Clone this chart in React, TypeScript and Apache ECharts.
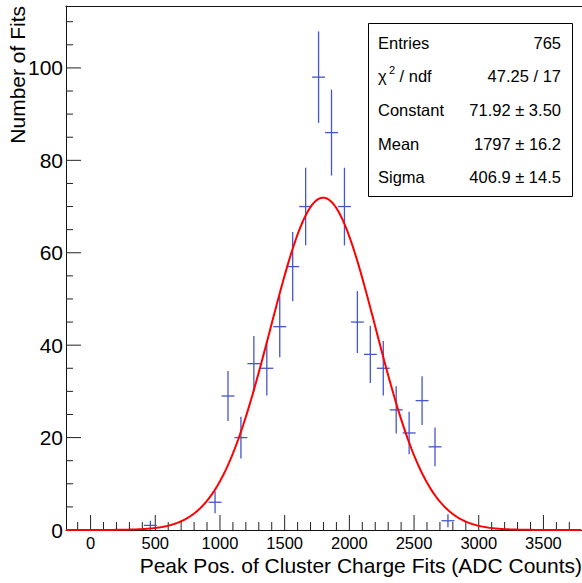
import React, { useEffect, useRef } from "react";
import * as echarts from "echarts";

// Histogram (non-empty bins only), bin width 100 ADC counts
const binCenters = [462, 962, 1062, 1162, 1262, 1362, 1462, 1562, 1662, 1762, 1862, 1962, 2062, 2162, 2262, 2362, 2462, 2562, 2662, 2762];
const counts = [1, 6, 29, 20, 36, 35, 44, 57, 70, 98, 86, 70, 45, 38, 35, 26, 21, 28, 18, 2];
const countErrors = [1, 2.4, 5.4, 4.5, 6, 5.9, 6.6, 7.5, 8.4, 9.9, 9.3, 8.4, 6.7, 6.2, 5.9, 5.1, 4.6, 5.3, 4.2, 1.4];
const binWidth = 100;

// Gaussian fit parameters (from stats box)
const fitConstant = 71.92;
const fitMean = 1797;
const fitSigma = 406.9;

// Axes
const xMin = -190;
const xMax = 3798;
const yMin = 0;
const yMax = 113.4;
const xMajorTicks = [0, 500, 1000, 1500, 2000, 2500, 3000, 3500];
const xMajorLabels = ["0", "500", "1000", "1500", "2000", "2500", "3000", "3500"];
const yMajorTicks = [0, 20, 40, 60, 80, 100];
const yMajorLabels = ["0", "20", "40", "60", "80", "100"];
const xMinorStep = 100;
const yMinorStep = 5;

// Stats box
const statsLabels = ["Entries", "χ", "Constant", "Mean", "Sigma"];
const statsValues = ["765", "47.25 / 17", "71.92 ± 3.50", "1797 ± 16.2", "406.9 ± 14.5"];

const xTitle = "Peak Pos. of Cluster Charge Fits (ADC Counts)";
const yTitle = "Number of Fits";

const FONT = "'Liberation Sans', Arial, Helvetica, sans-serif";
const BLUE = "#4456cc";
const FRAME = "#111";

export default function App() {
  const ref = useRef<HTMLDivElement>(null);

  useEffect(() => {
    if (!ref.current) return;
    const chart = echarts.init(ref.current, null, { renderer: "svg" });

    const xTicks: { v: number; major: boolean; label: string }[] = [];
    for (let v = -100; v <= 3700; v += xMinorStep) {
      const mi = xMajorTicks.indexOf(v);
      xTicks.push({ v, major: mi >= 0, label: mi >= 0 ? xMajorLabels[mi] : "" });
    }
    const yTicks: { v: number; major: boolean; label: string }[] = [];
    for (let v = 0; v <= 110; v += yMinorStep) {
      const mi = yMajorTicks.indexOf(v);
      yTicks.push({ v, major: mi >= 0, label: mi >= 0 ? yMajorLabels[mi] : "" });
    }

    const fitData: number[][] = [];
    for (let x = xMin; x <= xMax; x += 10) {
      const z = (x - fitMean) / fitSigma;
      fitData.push([x, fitConstant * Math.exp(-0.5 * z * z)]);
    }

    const rowYs = [43, 75.5, 109.5, 144, 177];
    const statsGraphics: any[] = [
      {
        type: "rect",
        z: 100,
        shape: { x: 368.5, y: 23.5, width: 204, height: 173 },
        style: { fill: "#fff", stroke: "#000", lineWidth: 1 },
      },
    ];
    statsLabels.forEach((lab, i) => {
      statsGraphics.push({
        type: "text",
        z: 101,
        x: 378,
        y: rowYs[i],
        style: { text: lab, fontSize: 16.5, fontFamily: FONT, fill: "#000", align: "left", verticalAlign: "middle" },
      });
      statsGraphics.push({
        type: "text",
        z: 101,
        x: 561,
        y: rowYs[i],
        style: { text: statsValues[i], fontSize: 16.5, fontFamily: FONT, fill: "#000", align: "right", verticalAlign: "middle" },
      });
    });
    statsGraphics.push({
      type: "text",
      z: 101,
      x: 389,
      y: 70,
      style: { text: "2", fontSize: 11, fontFamily: FONT, fill: "#000", align: "left", verticalAlign: "middle" },
    });
    statsGraphics.push({
      type: "text",
      z: 101,
      x: 395,
      y: rowYs[1],
      style: { text: " / ndf", fontSize: 16.5, fontFamily: FONT, fill: "#000", align: "left", verticalAlign: "middle" },
    });

    const hiddenAxisParts = {
      axisTick: { show: false },
      axisLabel: { show: false },
      splitLine: { show: false },
    };

    chart.setOption({
      animation: false,
      backgroundColor: "#fff",
      grid: { left: 66, top: 6, right: 0, bottom: 53 },
      xAxis: [
        {
          type: "value",
          position: "bottom",
          min: xMin,
          max: xMax,
          axisLine: { show: true, onZero: false, lineStyle: { color: FRAME, width: 1 } },
          ...hiddenAxisParts,
        },
        {
          type: "value",
          position: "top",
          min: xMin,
          max: xMax,
          axisLine: { show: true, onZero: false, lineStyle: { color: FRAME, width: 1 } },
          ...hiddenAxisParts,
        },
      ],
      yAxis: {
        type: "value",
        min: yMin,
        max: yMax,
        axisLine: { show: true, onZero: false, lineStyle: { color: FRAME, width: 1 } },
        ...hiddenAxisParts,
      },
      series: [
        {
          type: "custom",
          name: "xticks",
          clip: false,
          silent: true,
          data: xTicks.map((t) => [t.v, t.major ? 1 : 0]),
          encode: { x: 0 },
          renderItem: (params: any, api: any) => {
            const t = xTicks[params.dataIndex];
            const p = api.coord([t.v, yMin]);
            const len = t.major ? 15 : 8;
            const children: any[] = [
              {
                type: "line",
                shape: { x1: p[0], y1: p[1], x2: p[0], y2: p[1] - len },
                style: { stroke: "#222", lineWidth: 1 },
              },
            ];
            if (t.major) {
              children.push({
                type: "text",
                x: p[0],
                y: p[1] + 12.5,
                style: { text: t.label, fontSize: 16.5, fontFamily: FONT, fill: "#000", align: "center", verticalAlign: "middle" },
              });
            }
            return { type: "group", children };
          },
        },
        {
          type: "custom",
          name: "yticks",
          clip: false,
          silent: true,
          data: yTicks.map((t) => [xMin, t.v]),
          encode: { x: 0, y: 1 },
          renderItem: (params: any, api: any) => {
            const t = yTicks[params.dataIndex];
            const p = api.coord([xMin, t.v]);
            const len = t.major ? 15 : 7;
            const children: any[] = [
              {
                type: "line",
                shape: { x1: p[0], y1: p[1], x2: p[0] + len, y2: p[1] },
                style: { stroke: "#222", lineWidth: 1 },
              },
            ];
            if (t.major) {
              children.push({
                type: "text",
                x: p[0] - 3,
                y: p[1],
                style: { text: t.label, fontSize: 21, fontFamily: FONT, fill: "#000", align: "right", verticalAlign: "middle" },
              });
            }
            return { type: "group", children };
          },
        },
        {
          type: "custom",
          name: "histogram",
          clip: true,
          z: 3,
          data: binCenters.map((c, i) => [c, counts[i], countErrors[i]]),
          encode: { x: 0, y: 1 },
          renderItem: (params: any, api: any) => {
            const x = api.value(0);
            const y = api.value(1);
            const e = api.value(2);
            const c = api.coord([x, y]);
            const top = api.coord([x, y + e]);
            const bot = api.coord([x, Math.max(0, y - e)]);
            const l = api.coord([x - binWidth / 2, y]);
            const r = api.coord([x + binWidth / 2, y]);
            return {
              type: "group",
              children: [
                {
                  type: "line",
                  shape: { x1: c[0], y1: top[1], x2: c[0], y2: bot[1] },
                  style: { stroke: BLUE, lineWidth: 1.3 },
                },
                {
                  type: "line",
                  shape: { x1: l[0], y1: c[1], x2: r[0], y2: c[1] },
                  style: { stroke: BLUE, lineWidth: 1.3 },
                },
              ],
            };
          },
        },
        {
          type: "line",
          name: "fit",
          z: 4,
          data: fitData,
          showSymbol: false,
          symbol: "none",
          clip: true,
          lineStyle: { color: "#ff0000", width: 2 },
          silent: true,
        },
      ],
      graphic: [
        {
          type: "text",
          x: 582,
          y: 565,
          style: { text: xTitle, fontSize: 21, fontFamily: FONT, fill: "#000", align: "right", verticalAlign: "middle" },
        },
        {
          type: "text",
          x: 17,
          y: 6,
          rotation: Math.PI / 2,
          style: { text: yTitle, fontSize: 21, fontFamily: FONT, fill: "#000", align: "right", verticalAlign: "middle" },
        },
        ...statsGraphics,
      ],
    });

    return () => chart.dispose();
  }, []);

  return (
    <div
      ref={ref}
      style={{ position: "fixed", left: 0, top: 0, width: 582, height: 583, background: "#fff" }}
    />
  );
}
